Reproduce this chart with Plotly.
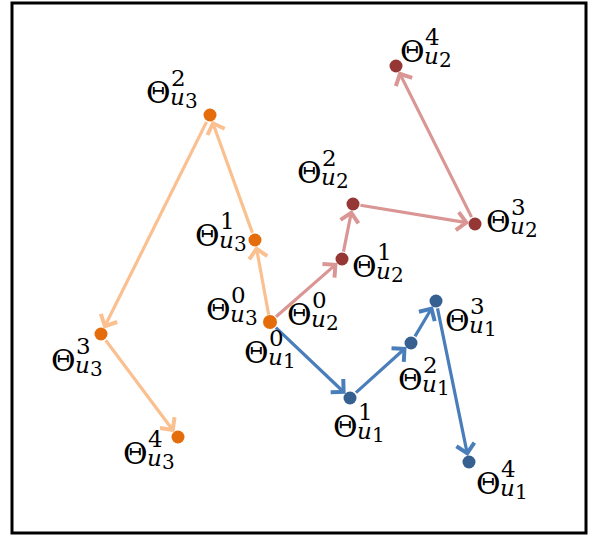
import plotly.graph_objects as go

# Parameter trajectories for three users, all starting from a shared initial point
origin_x, origin_y = 258, 211

u1_x = [origin_x, 338, 399, 424, 457]
u1_y = [origin_y, 135, 190, 232, 71]

u2_x = [origin_x, 330, 341, 463, 384]
u2_y = [origin_y, 274, 329, 309, 467]

u3_x = [origin_x, 243, 198, 89, 166]
u3_y = [origin_y, 293, 418, 199, 96]

steps = ["0", "1", "2", "3", "4"]
users = ["1", "2", "3"]

line_colors = {"1": "#4A7EBB", "2": "#D99694", "3": "#FAC090"}
dot_colors = {"1": "#35608F", "2": "#953735", "3": "#E46C0A"}

series = {"1": (u1_x, u1_y), "2": (u2_x, u2_y), "3": (u3_x, u3_y)}

# label placement (pixel offset of the Θ glyph centre from its point, y downward)
label_offsets = {
    "1": [(-14, 30), (-5, 28), (-1, 36), (21, 19), (19, 21)],
    "2": [(29, -8), (22, 7), (-44, -32), (23, -3), (16, -15)],
    "3": [(-52, -13), (-48, -5), (-52, -23), (-38, 26), (-43, 16)],
}

FONT = "DejaVu Serif"

fig = go.Figure()
annotations = []

for u in users:
    xs, ys = series[u]
    # arrows between successive iterates
    for i in range(len(xs) - 1):
        annotations.append(dict(
            x=xs[i + 1], y=ys[i + 1], ax=xs[i], ay=ys[i],
            xref="x", yref="y", axref="x", ayref="y",
            text="", showarrow=True,
            arrowhead=4, arrowsize=1.1, arrowwidth=3.2,
            arrowcolor=line_colors[u], standoff=6, startstandoff=6,
        ))

for u in ["1", "2", "3"]:
    xs, ys = series[u]
    fig.add_trace(go.Scatter(
        x=xs[1:], y=ys[1:], mode="markers",
        marker=dict(size=13, color=dot_colors[u]),
        showlegend=False, hoverinfo="skip",
    ))

fig.add_trace(go.Scatter(
    x=[origin_x], y=[origin_y], mode="markers",
    marker=dict(size=14, color=dot_colors["3"]),
    showlegend=False, hoverinfo="skip",
))

# Θ^k_{u_j} labels built from separate pieces so super/subscripts stack
for u in users:
    xs, ys = series[u]
    for k in range(len(xs)):
        dx, dy = label_offsets[u][k]
        base = dict(xref="x", yref="y", x=xs[k], y=ys[k], showarrow=False,
                    borderpad=0, yanchor="middle")
        annotations.append(dict(base, text="Θ", xanchor="center",
                                xshift=dx, yshift=-dy,
                                font=dict(family=FONT, size=30, color="black")))
        annotations.append(dict(base, text=steps[k], xanchor="left",
                                xshift=dx + 12, yshift=-(dy - 14),
                                font=dict(family=FONT, size=23, color="black")))
        annotations.append(dict(base, text="<i>u</i>", xanchor="left",
                                xshift=dx + 11, yshift=-(dy + 5),
                                font=dict(family=FONT, size=23, color="black")))
        annotations.append(dict(base, text=u, xanchor="left",
                                xshift=dx + 26, yshift=-(dy + 9),
                                font=dict(family=FONT, size=20, color="black")))

fig.update_layout(
    width=593, height=538,
    margin=dict(l=12, r=7, t=3, b=5),
    paper_bgcolor="white", plot_bgcolor="white",
    xaxis=dict(range=[0, 574], visible=False, fixedrange=True),
    yaxis=dict(range=[0, 530], visible=False, fixedrange=True),
    annotations=annotations,
    shapes=[dict(type="rect", xref="paper", yref="paper", x0=0, y0=0, x1=1, y1=1,
                 line=dict(color="black", width=3))],
)

fig.write_html("out.html")
